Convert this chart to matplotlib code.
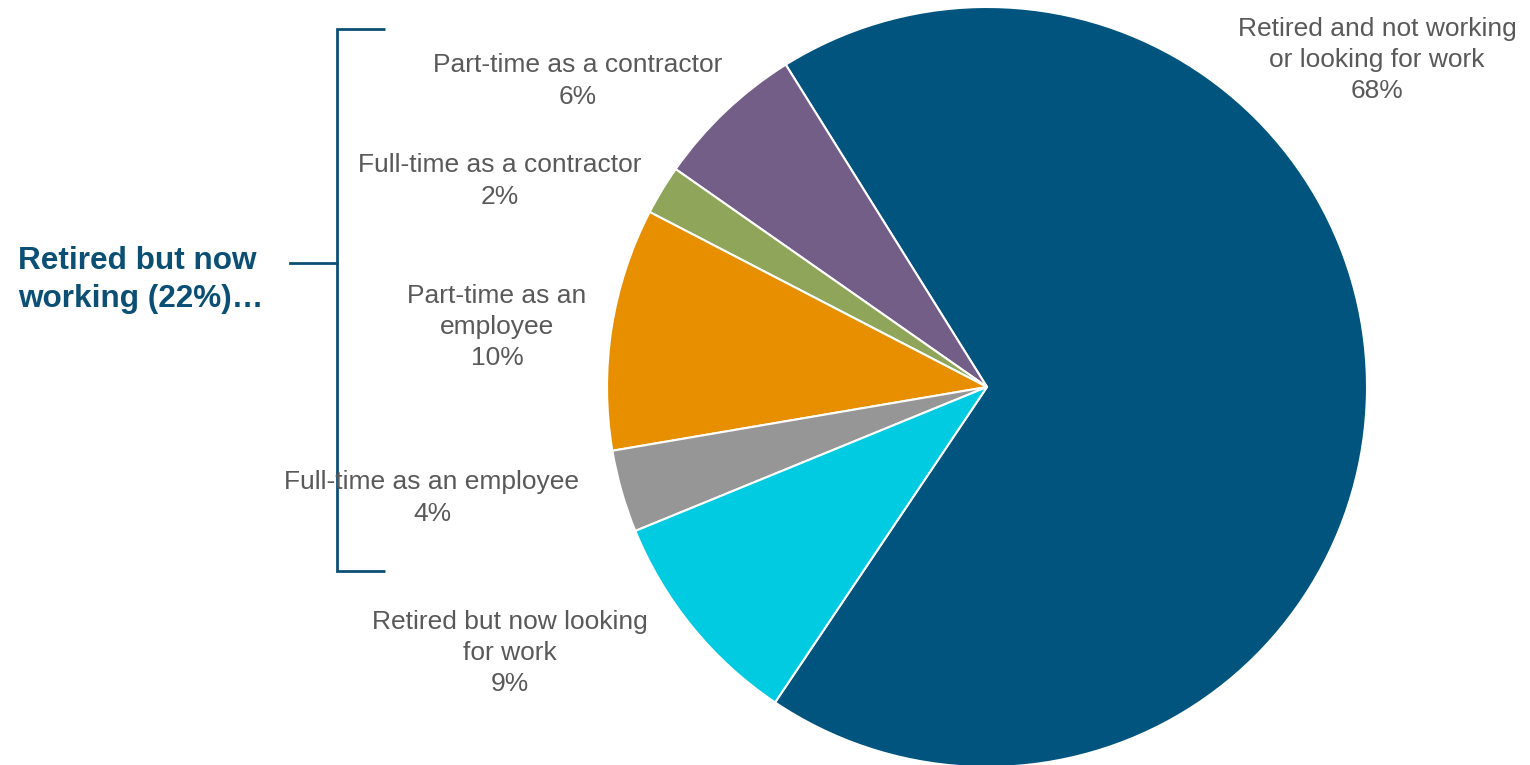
import matplotlib
matplotlib.use('Agg')
import matplotlib.pyplot as plt

plt.rcParams['font.family'] = ['Liberation Sans', 'DejaVu Sans']

# slices, counter-clockwise from the start angle
categories = [
    "Retired and not working\nor looking for work",
    "Part-time as a contractor",
    "Full-time as a contractor",
    "Part-time as an\nemployee",
    "Full-time as an employee",
    "Retired but now looking\nfor work",
]
shares = [68.3, 6.4, 2.1, 10.3, 3.5, 9.4]
colors = ["#00547D", "#735E88", "#8FA65A", "#E88F00", "#969696", "#00CBE0"]

# label anchors in pixel space (x, y from top)
label_pos = [(1377, 60), (578, 81), (500, 181), (497, 327), (432, 498), (510, 653)]

W, H = 1530, 765
fig = plt.figure(figsize=(15.3, 7.65), dpi=100)
ax = fig.add_axes([0, 0, 1, 1])

cx, cy, r = 987, H - 387, 380
ax.pie(shares, colors=colors, startangle=236.1, counterclock=True,
       center=(cx, cy), radius=r, frame=True,
       wedgeprops=dict(edgecolor="white", linewidth=1.5))
ax.set_xlim(0, W)
ax.set_ylim(0, H)
ax.set_aspect("equal")
ax.axis("off")

for name, val, (x, y) in zip(categories, shares, label_pos):
    ax.text(x, H - y, f"{name}\n{val:.0f}%", ha="center", va="center",
            fontsize=19, color="#595959", linespacing=1.38, zorder=5)

# bracket for the working group
navy = "#0B4F75"
bx, btop, bbot, bmid = 337, 29, 571, 263
ax.plot([385, bx, bx, 385], [H - btop, H - btop, H - bbot, H - bbot],
        color=navy, lw=2, solid_capstyle="butt", solid_joinstyle="miter")
ax.plot([290, bx], [H - bmid, H - bmid], color=navy, lw=2)

working = sum(shares[1:5])
ax.text(18, H - 280, f"Retired but now\nworking ({working:.0f}%)…",
        ha="left", va="center", fontsize=22.7, fontweight="bold",
        color=navy, linespacing=1.36)

fig.savefig("out.png", dpi=100, facecolor="white")
